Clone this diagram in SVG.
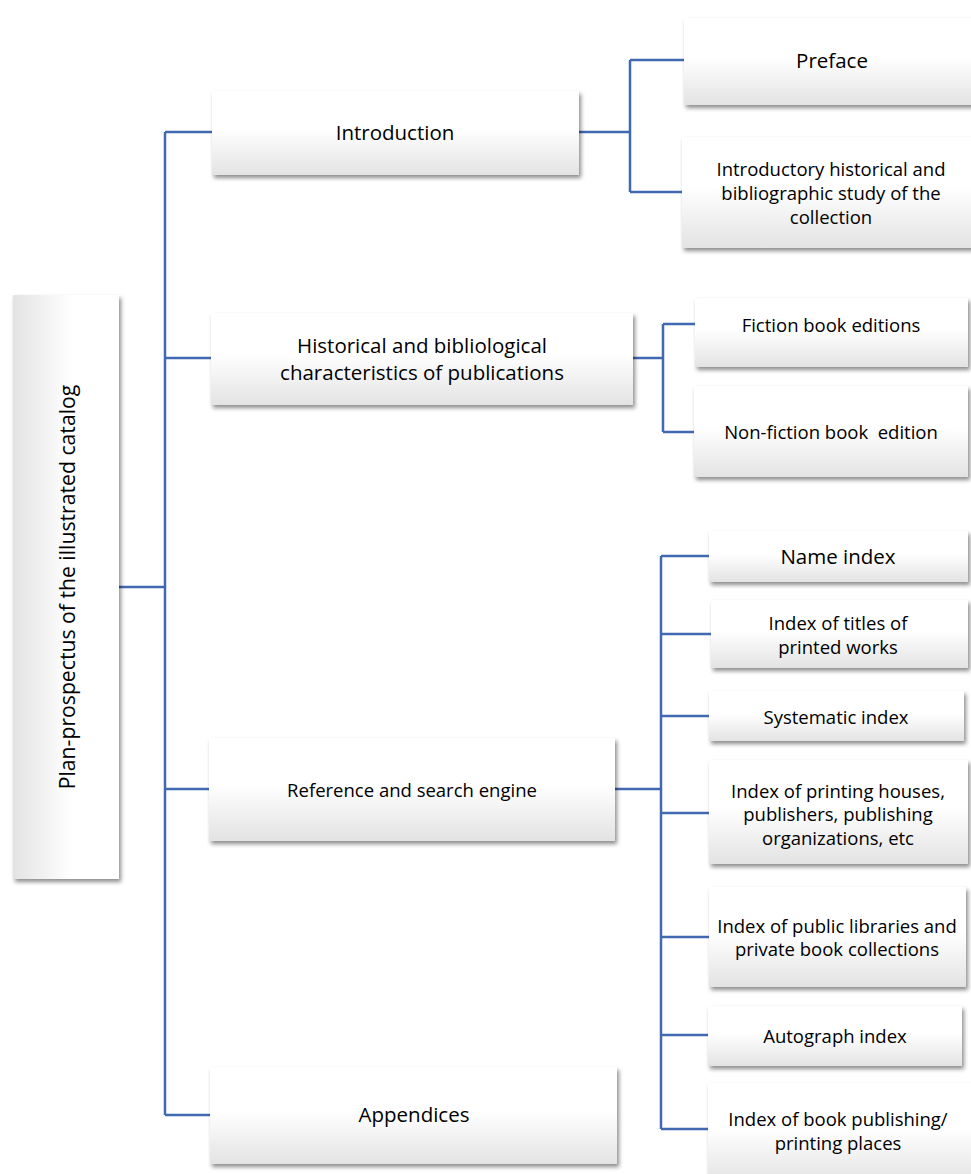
<svg xmlns="http://www.w3.org/2000/svg" width="971" height="1174" viewBox="0 0 971 1174">
<defs>
<linearGradient id="g" x1="0" y1="0" x2="0" y2="1">
<stop offset="0" stop-color="#ffffff"/>
<stop offset="0.45" stop-color="#ffffff"/>
<stop offset="1" stop-color="#e3e3e3"/>
</linearGradient>
<linearGradient id="gr" x1="1" y1="0" x2="0" y2="0">
<stop offset="0" stop-color="#ffffff"/>
<stop offset="0.45" stop-color="#ffffff"/>
<stop offset="1" stop-color="#e3e3e3"/>
</linearGradient>
<filter id="sh" x="-10%" y="-10%" width="130%" height="140%">
<feDropShadow dx="2" dy="3" stdDeviation="2" flood-color="#000" flood-opacity="0.45"/>
</filter>
</defs>
<style>
.box{fill:url(#g);filter:url(#sh)}
.t{font-family:"Open Sans","Liberation Sans",sans-serif;fill:#000;text-anchor:middle;dominant-baseline:central;white-space:pre}
.l{font-size:20.5px}
.r{font-size:21.2px}
.m{font-size:18.5px}
.c{fill:none;stroke:#4169b2;stroke-width:2.5}
</style>
<rect width="971" height="1174" fill="#fff"/>
<g id="connectors">
<path class="c" d="M119 587H165M165 132V1115M165 132H212M165 358H211M165 789H209M165 1115H210"/>
<path class="c" d="M579 132H630M630 60V192M630 60H684M630 192H682"/>
<path class="c" d="M633 358H663M663 324V432M663 324H695M663 432H694"/>
<path class="c" d="M615 789H661M661 556V1129M661 556H709M661 634H711M661 716H709M661 813H709M661 937H709M661 1035H708M661 1129H708"/>
</g>
<g id="root">
<rect x="13" y="295" width="106" height="584" fill="url(#gr)" filter="url(#sh)"/>
<text class="t r" transform="translate(66,587) rotate(-90)">Plan-prospectus of the illustrated catalog</text>
</g>
<g id="introduction">
<rect class="box" x="212" y="91" width="367" height="84"/>
<text class="t l" x="395" y="132">Introduction</text>
</g>
<g id="preface">
<rect class="box" x="684" y="18" width="290" height="87"/>
<text class="t l" x="832" y="60">Preface</text>
</g>
<g id="intro-study">
<rect class="box" x="682" y="137" width="292" height="111"/>
<text class="t m" x="831" y="168">Introductory historical and</text>
<text class="t m" x="831" y="192">bibliographic study of the</text>
<text class="t m" x="831" y="216">collection</text>
</g>
<g id="historical">
<rect class="box" x="211" y="313" width="422" height="92"/>
<text class="t l" x="422" y="345">Historical and bibliological</text>
<text class="t l" x="422" y="372">characteristics of publications</text>
</g>
<g id="fiction">
<rect class="box" x="695" y="298" width="273" height="69"/>
<text class="t m" x="831" y="324">Fiction book editions</text>
</g>
<g id="nonfiction">
<rect class="box" x="694" y="386" width="274" height="91"/>
<text class="t m" x="831" y="431">Non-fiction book  edition</text>
</g>
<g id="reference">
<rect class="box" x="209" y="738" width="406" height="103"/>
<text class="t m" x="412" y="789">Reference and search engine</text>
</g>
<g id="appendices">
<rect class="box" x="210" y="1067" width="407" height="97"/>
<text class="t l" x="414" y="1114">Appendices</text>
</g>
<g id="name-index">
<rect class="box" x="709" y="531" width="259" height="51"/>
<text class="t l" x="838" y="556">Name index</text>
</g>
<g id="titles-index">
<rect class="box" x="711" y="600" width="257" height="68"/>
<text class="t m" x="838" y="622">Index of titles of</text>
<text class="t m" x="838" y="646">printed works</text>
</g>
<g id="systematic-index">
<rect class="box" x="709" y="691" width="255" height="50"/>
<text class="t m" x="836" y="716">Systematic index</text>
</g>
<g id="printing-houses-index">
<rect class="box" x="709" y="760" width="259" height="104"/>
<text class="t m" x="838" y="790">Index of printing houses,</text>
<text class="t m" x="838" y="813">publishers, publishing</text>
<text class="t m" x="838" y="837">organizations, etc</text>
</g>
<g id="libraries-index">
<rect class="box" x="709" y="887" width="257" height="100"/>
<text class="t m" x="837" y="925">Index of public libraries and</text>
<text class="t m" x="837" y="948">private book collections</text>
</g>
<g id="autograph-index">
<rect class="box" x="708" y="1006" width="254" height="60"/>
<text class="t m" x="835" y="1035">Autograph index</text>
</g>
<g id="places-index">
<rect class="box" x="708" y="1083" width="266" height="100"/>
<text class="t m" x="838" y="1118">Index of book publishing/</text>
<text class="t m" x="838" y="1142">printing places</text>
</g>
</svg>
